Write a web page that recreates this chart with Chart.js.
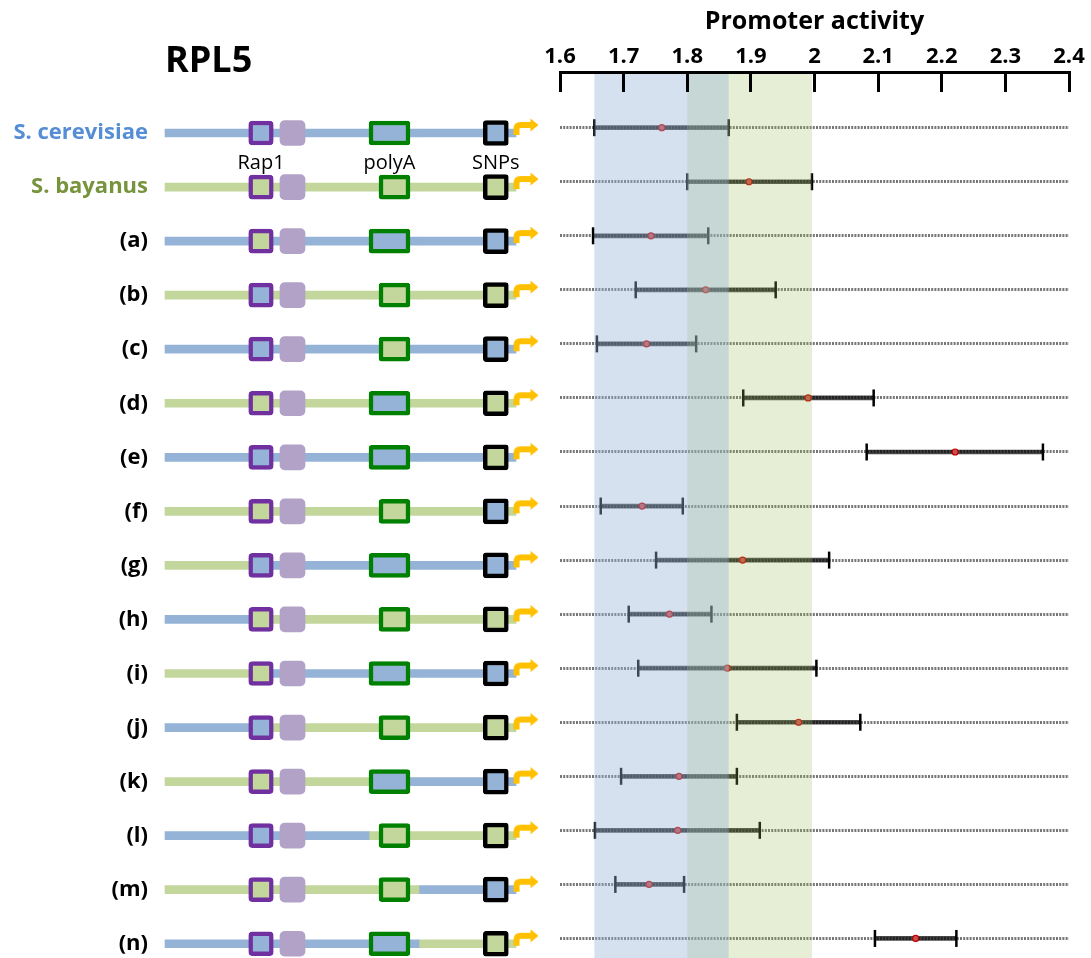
<!DOCTYPE html>
<html>
<head>
<meta charset="utf-8">
<title>RPL5 promoter activity</title>
<script src="https://cdn.jsdelivr.net/npm/chart.js@4.4.1/dist/chart.umd.min.js"></script>
<style>
  html, body { margin: 0; padding: 0; background: #fff; }
  #figure { position: relative; width: 1091px; height: 958px; overflow: hidden; }
  #constructs { position: absolute; left: 0; top: 0; width: 540px; height: 958px; }
  #activity { position: absolute; left: 540px; top: 0; width: 551px; height: 958px; }
</style>
</head>
<body>
<div id="figure">
  <canvas id="constructs" width="540" height="958"></canvas>
  <canvas id="activity" width="551" height="958"></canvas>
</div>
<script>
// ---- constructs (rows, top to bottom) ----
const rowLabels = ['S. cerevisiae', 'S. bayanus', '(a)', '(b)', '(c)', '(d)', '(e)', '(f)',
                   '(g)', '(h)', '(i)', '(j)', '(k)', '(l)', '(m)', '(n)'];

// promoter activity: mean and error-bar limits
const activityMean = [1.760, 1.897, 1.743, 1.829, 1.736, 1.990, 2.221, 1.729,
                      1.887, 1.772, 1.863, 1.975, 1.787, 1.785, 1.740, 2.159];
const activityLow  = [1.654, 1.800, 1.652, 1.719, 1.658, 1.888, 2.082, 1.664,
                      1.751, 1.708, 1.723, 1.878, 1.696, 1.655, 1.687, 2.095];
const activityHigh = [1.865, 1.996, 1.833, 1.939, 1.814, 2.093, 2.359, 1.793,
                      2.023, 1.838, 2.003, 2.072, 1.878, 1.914, 1.795, 2.223];

const tickLabels = ['1.6', '1.7', '1.8', '1.9', '2', '2.1', '2.2', '2.3', '2.4'];

// origin of each promoter part: 'C' = S. cerevisiae, 'B' = S. bayanus
const upstream    = ['C','B','C','B','C','B','C','B','B','C','B','C','B','C','B','C'];
const rap1Site    = ['C','B','B','C','C','B','C','B','C','B','B','C','B','C','B','C'];
const middle      = ['C','B','C','B','C','B','C','B','C','B','C','B','B','C','B','C'];
const polyARegion = ['C','B','C','B','C','B','C','B','C','B','C','B','C','B','B','C'];
const polyASite   = ['C','B','C','B','B','C','C','B','C','B','C','B','C','B','B','C'];
const downstream  = ['C','B','C','B','C','B','C','B','C','B','C','B','C','B','C','B'];
const snpSite     = ['C','B','C','B','C','B','B','C','C','B','C','B','C','B','C','B'];

// schematic layout of the promoter, in promoter units (0 = left end, 100 = TSS end)
const promoterSpan  = [0, 100];
const segmentBreaks = [27.35, 58.12, 72.36];
const rap1Box       = [23.85, 30.85];
const rap1SecondBox = [32.76, 39.89];
const polyABoxC     = [58.12, 69.80];
const polyABoxB     = [60.97, 69.80];
const snpBox        = [90.68, 97.81];
const tssPosition   = 102.85;
const featureNames  = ['Rap1', 'polyA', 'SNPs'];
const featureCenters = [
  (rap1Box[0] + rap1Box[1]) / 2,
  (polyABoxC[0] + polyABoxC[1]) / 2,
  (snpBox[0] + snpBox[1]) / 2
];

// ---- styling ----
Chart.defaults.font.family = "'Open Sans', sans-serif";
Chart.defaults.color = '#000';
const speciesFill = { C: '#95B3D7', B: '#C3D69B' };
const labelInk = ['#558ED5', '#77933C'];
const rows = rowLabels.map((_, i) => i);

// transcription start arrow used as the point glyph
function makeTssGlyph() {
  const c = document.createElement('canvas');
  c.width = 32; c.height = 34;
  const g = c.getContext('2d');
  g.strokeStyle = '#FFC000';
  g.fillStyle = '#FFC000';
  g.lineWidth = 6;
  g.beginPath();
  g.moveTo(6.5, 19);
  g.lineTo(6.5, 13);
  g.quadraticCurveTo(6.5, 9, 10.5, 9);
  g.lineTo(21.5, 9);
  g.stroke();
  g.beginPath();
  g.moveTo(20.5, 2.5);
  g.lineTo(28.5, 9);
  g.lineTo(20.5, 15.5);
  g.closePath();
  g.fill();
  return c;
}
const tssGlyph = makeTssGlyph();

function spanBars(bounds, origin, extra) {
  return Object.assign({
    type: 'bar',
    indexAxis: 'y',
    grouped: false,
    data: rows.map(i => ({ x: typeof bounds === 'function' ? bounds(i) : bounds, y: i })),
    backgroundColor: origin ? rows.map(i => speciesFill[origin[i]]) : undefined,
    borderWidth: 0,
    borderSkipped: false,
    clip: false
  }, extra);
}

// labels "Rap1 / polyA / SNPs" under the first construct
const featureLabels = {
  id: 'featureLabels',
  afterDatasetsDraw(chart) {
    const { ctx, scales: { x, y } } = chart;
    ctx.save();
    ctx.font = "20px 'Open Sans'";
    ctx.fillStyle = '#000';
    ctx.textAlign = 'center';
    ctx.textBaseline = 'middle';
    const yy = y.getPixelForValue(0.56);
    featureNames.forEach((name, k) => ctx.fillText(name, x.getPixelForValue(featureCenters[k]), yy));
    ctx.restore();
  }
};

new Chart(document.getElementById('constructs'), {
  type: 'scatter',
  data: {
    datasets: [
      {
        type: 'scatter',
        indexAxis: 'y',
        data: rows.map(i => ({ x: tssPosition, y: i })),
        pointStyle: tssGlyph,
        pointRadius: 16,
        clip: false,
        order: 1
      },
      spanBars(rap1Box, rap1Site, {
        barThickness: 24, borderWidth: 4.5, borderColor: '#7030A0', borderRadius: 4, order: 5
      }),
      spanBars(rap1SecondBox, null, {
        barThickness: 25, backgroundColor: '#B3A2C7', borderRadius: 5, order: 5
      }),
      spanBars(i => (polyASite[i] === 'C' ? polyABoxC : polyABoxB), polyASite, {
        barThickness: 24, borderWidth: 4.5, borderColor: '#008000', borderRadius: 3, order: 5
      }),
      spanBars(snpBox, snpSite, {
        barThickness: 25, borderWidth: 4.5, borderColor: '#000000', borderRadius: 3, order: 5
      }),
      spanBars([promoterSpan[0], segmentBreaks[0]], upstream, { barThickness: 8, order: 10 }),
      spanBars([segmentBreaks[0], segmentBreaks[1]], middle, { barThickness: 8, order: 10 }),
      spanBars([segmentBreaks[1], segmentBreaks[2]], polyARegion, { barThickness: 8, order: 10 }),
      spanBars([segmentBreaks[2], promoterSpan[1]], downstream, { barThickness: 8, order: 10 })
    ]
  },
  options: {
    responsive: false,
    animation: false,
    events: [],
    layout: { autoPadding: false, padding: { left: 0, right: 24, top: 0, bottom: 0 } },
    plugins: {
      legend: { display: false },
      tooltip: { enabled: false },
      title: {
        display: true,
        text: 'RPL5',
        align: 'start',
        fullSize: false,
        color: '#000',
        font: { size: 36, weight: 'bold' },
        padding: { top: 40.4, bottom: 0 }
      }
    },
    scales: {
      x: {
        type: 'linear',
        display: false,
        min: 0,
        max: 100,
        offset: false
      },
      y: {
        type: 'linear',
        reverse: true,
        min: -0.914,
        max: 15.2636,
        offset: false,
        afterBuildTicks: s => { s.ticks = rows.map(v => ({ value: v })); },
        afterFit: s => { s.width = 165; s.paddingTop = 0; s.paddingBottom = 0; },
        grid: { display: false, drawTicks: false, offset: false },
        border: { display: false },
        ticks: {
          autoSkip: false,
          padding: 17,
          font: { size: 22, weight: 'bold' },
          color: ctx => labelInk[ctx.index] || '#000',
          callback: v => rowLabels[v]
        }
      }
    }
  },
  plugins: [featureLabels]
});

// shaded ranges of the two parental promoters, laid over the error bars
const speciesBands = {
  id: 'speciesBands',
  afterDatasetsDraw(chart) {
    const { ctx, chartArea: { top, bottom }, scales: { x } } = chart;
    ctx.save();
    [[1, 'rgba(155,187,89,0.25)'], [0, 'rgba(149,179,215,0.4)']].forEach(([row, fill]) => {
      const x0 = x.getPixelForValue(activityLow[row]);
      const x1 = x.getPixelForValue(activityHigh[row]);
      ctx.fillStyle = fill;
      ctx.fillRect(x0, top, x1 - x0, bottom - top);
    });
    ctx.restore();
  }
};

new Chart(document.getElementById('activity'), {
  type: 'scatter',
  data: {
    datasets: [
      {
        type: 'scatter',
        data: rows.map(i => ({ x: activityMean[i], y: i })),
        pointStyle: 'circle',
        pointRadius: 3,
        pointBackgroundColor: '#C9504D',
        pointBorderColor: '#C00000',
        pointBorderWidth: 1.2,
        order: 1
      },
      {
        type: 'scatter',
        data: rows.map(i => ({ x: activityLow[i], y: i }))
          .concat(rows.map(i => ({ x: activityHigh[i], y: i }))),
        pointStyle: 'line',
        rotation: 90,
        pointRadius: 8.5,
        pointBorderColor: '#000',
        pointBorderWidth: 2.5,
        order: 2
      },
      {
        type: 'bar',
        indexAxis: 'y',
        grouped: false,
        data: rows.map(i => ({ x: [activityLow[i], activityHigh[i]], y: i })),
        barThickness: 4,
        backgroundColor: 'rgba(0,0,0,0.72)',
        borderWidth: 0,
        order: 3
      }
    ]
  },
  options: {
    responsive: false,
    animation: false,
    events: [],
    layout: { autoPadding: false, padding: { left: 20, right: 22, top: 0, bottom: 0 } },
    plugins: {
      legend: { display: false },
      tooltip: { enabled: false }
    },
    scales: {
      x: {
        type: 'linear',
        position: 'top',
        min: 1.6,
        max: 2.4,
        offset: false,
        beginAtZero: false,
        afterFit: s => { s.height = 72; s.paddingLeft = 0; s.paddingRight = 0; },
        title: {
          display: true,
          text: 'Promoter activity',
          color: '#000',
          font: { size: 25, weight: 'bold' },
          padding: { top: 7, bottom: 0 }
        },
        grid: {
          drawOnChartArea: false,
          drawTicks: true,
          tickLength: -20,
          tickWidth: 3,
          tickColor: '#000',
          offset: false,
          z: 1
        },
        border: { display: true, color: '#000', width: 3, z: 1 },
        ticks: {
          stepSize: 0.1,
          maxRotation: 0,
          autoSkip: false,
          padding: 21.8,
          color: '#000',
          font: { size: 22, weight: 'bold' },
          callback: (v, i) => tickLabels[i]
        }
      },
      y: {
        type: 'linear',
        reverse: true,
        min: -1.0305,
        max: 15.3617,
        offset: false,
        afterBuildTicks: s => { s.ticks = rows.map(v => ({ value: v })); },
        afterFit: s => { s.width = 0; s.paddingTop = 0; s.paddingBottom = 0; },
        grid: { color: '#777777', lineWidth: 3, drawTicks: false, offset: false },
        border: { display: false, dash: [2, 1.2] },
        ticks: { display: false }
      }
    }
  },
  plugins: [speciesBands]
});
</script>
</body>
</html>
